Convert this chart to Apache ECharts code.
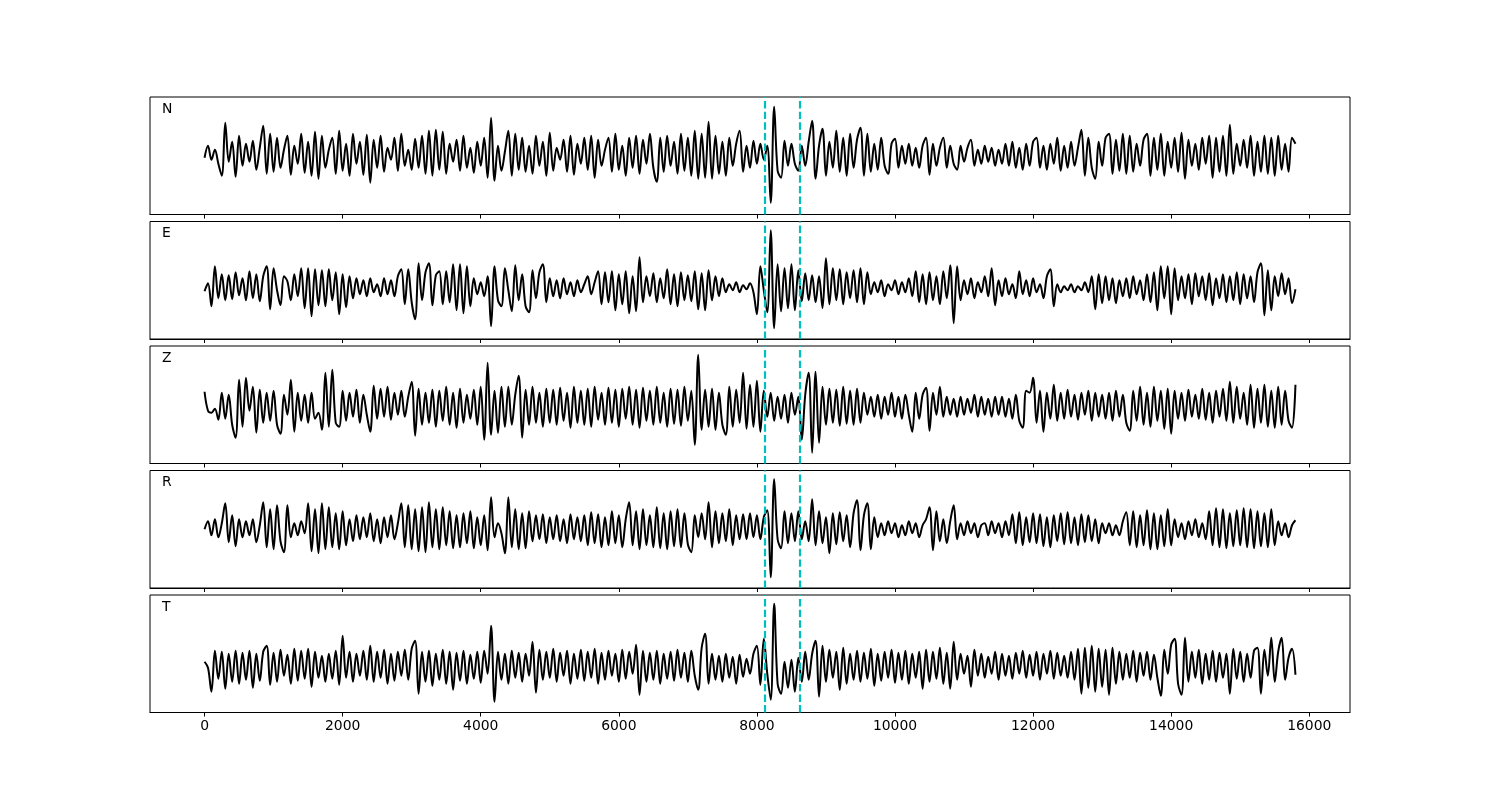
<!DOCTYPE html>
<html>
<head>
<meta charset="utf-8">
<script src="https://cdn.jsdelivr.net/npm/echarts@6/dist/echarts.min.js"></script>
<style>
html,body{margin:0;padding:0;background:#fff;}
#chart{width:1500px;height:800px;}
</style>
</head>
<body>
<div id="chart"></div>
<script>
// sample step of the traces (time units per sample)
const sampleStep = 50;
// channel names
const channels = ['N', 'E', 'Z', 'R', 'T'];
// picked phase times (dashed lines)
const picks = [8120, 8620];
// x tick labels
const xTicks = [0, 2000, 4000, 6000, 8000, 10000, 12000, 14000, 16000];

// amplitudes (relative units)
const traceN = [
-2,10,-4,6,-8,-20,33,-6,14,-21,
20,-10,12,-6,15,-14,8,30,-18,22,
-16,18,-12,6,20,-19,10,-8,22,-17,
14,-20,24,-23,20,-12,6,18,-18,25,
-15,12,-20,22,-8,14,-19,21,-27,16,
-12,20,-16,8,-4,18,-15,22,-10,6,
-14,17,-12,20,-18,25,-20,26,-14,24,
-18,12,-6,16,-15,20,-12,8,-17,14,
-10,18,-22,38,-25,10,-15,4,25,-20,
22,-14,18,-16,10,-18,20,-10,14,-20,
23,-15,8,-4,16,-16,20,-19,12,-8,
18,-14,20,-22,16,-10,6,18,-16,22,
-14,10,-20,18,-12,20,-18,16,-8,22,
-12,-26,18,-16,20,-10,14,-18,22,-15,
18,-20,25,-23,22,-22,34,-23,20,-18,
14,-20,18,-10,12,25,-16,10,-12,15,
-8,12,-4,10,-47,49,-15,-22,15,-10,
12,-8,-15,10,-10,14,35,-23,10,27,
-20,14,-12,25,-16,18,-20,22,-12,16,
28,-20,22,-16,12,-14,18,-10,-18,12,
17,-12,10,-8,12,-10,8,-12,10,18,
-19,12,-10,8,18,-12,10,-8,-14,10,
-6,8,16,-10,6,-8,10,-6,8,-10,
6,-8,12,-10,14,-12,8,-14,12,-10,
14,18,-12,10,-14,12,-8,18,-15,10,
-12,14,-10,8,26,-20,18,-12,-23,14,
-10,18,22,-18,16,-15,22,-18,20,-16,
12,-10,16,22,-20,18,-14,22,-20,14,
-12,18,-16,23,-23,16,-10,12,-14,18,
-8,20,-22,18,-16,20,-20,31,-18,12,
-10,16,-12,20,-20,14,-16,20,-18,18,
-20,20,-14,12,-16,18,12
];
const traceE = [
-11,-3,-26,14,-18,6,-20,5,-19,8,
-15,2,-20,9,-18,6,-21,4,14,-29,
12,-10,-25,4,-1,-20,6,-16,12,-28,
12,-36,11,-25,10,-26,11,-20,8,-34,
6,-27,4,-18,2,-14,0,-16,2,-12,
-4,-16,2,-14,0,-16,4,11,-24,11,
-22,-39,17,-20,8,17,-25,5,9,-24,
9,-22,16,-30,16,-33,14,-26,2,-14,
-2,-16,4,-46,14,-20,-26,12,-10,-31,
15,-20,6,-26,-32,10,-18,8,16,-22,
2,-16,0,-18,2,-14,-2,-16,0,-12,
-4,4,-14,-2,9,-24,8,-22,9,-30,
6,-24,9,-33,4,-31,23,-22,4,-16,
7,-22,2,-18,11,-24,6,-26,8,-20,
5,-21,9,-29,7,-30,10,-20,4,-16,
2,-12,-4,-10,-2,-12,-5,-9,-3,-12,
-34,14,-10,-32,50,-48,16,-31,12,-28,
16,-30,10,-21,7,-20,5,-22,4,-28,
22,-24,12,-20,11,-24,8,-18,10,-22,
12,-24,8,-14,-2,-12,0,-16,-4,-10,
0,-14,-2,-12,2,-16,9,-22,6,-24,
8,-20,4,-24,9,-18,15,-43,14,-20,
0,-14,2,-18,-2,-12,4,-16,12,-25,
0,-16,2,-14,-4,-18,9,-14,0,-16,
2,-12,-4,-18,4,11,-26,-4,-12,-6,
-10,-4,-12,-6,-10,-2,-12,4,-29,6,
-23,4,-20,2,-23,0,-16,2,-18,4,
-14,0,-20,6,-22,8,-30,14,-18,14,
-34,12,-20,4,-18,6,-24,7,-16,4,
-20,7,-25,2,-18,6,-22,4,-20,8,
-24,6,-18,4,-22,8,17,-35,10,-30,
4,-16,7,-14,2,-23,-9
];
const traceZ = [
13,-6,-8,-4,-15,12,-14,10,-20,-33,
25,-22,27,-6,18,-28,15,-18,12,-16,
14,-20,-29,10,-10,25,-27,12,-16,10,
-18,12,-14,-8,-25,32,-22,35,-18,-22,
14,-16,12,-12,15,-18,10,-10,-27,19,
-14,16,-12,18,-15,12,-10,14,-12,8,
23,-31,16,-20,12,-18,15,-22,14,-16,
18,-20,12,-23,16,-18,10,-14,15,-20,
18,-35,42,-30,14,-28,18,-22,18,-20,
10,29,-33,15,-20,18,-18,12,-22,16,
-18,15,-20,17,-16,12,-23,18,-18,14,
-20,16,-22,18,-15,12,-20,17,-18,15,
-22,16,-14,18,-20,15,-23,17,-16,14,
-20,18,-18,12,-22,16,-19,15,-21,18,
-16,14,-40,50,-25,15,-22,16,-25,12,
-20,-30,18,-22,15,-18,32,-24,20,-22,
24,-27,14,-12,12,-16,8,-14,10,-18,
12,-10,8,-35,10,32,-48,33,-38,18,
-20,16,-18,15,-21,18,-19,14,-20,16,
-18,12,-10,8,-12,10,-14,8,-10,12,
-12,8,-14,10,-10,-27,12,-14,10,17,
-26,12,-10,18,-12,8,-10,6,-12,8,
-10,6,-8,10,-12,8,-10,6,-12,8,
-10,8,-12,6,-14,10,-16,-23,14,12,
27,-18,14,-27,12,-14,20,-16,12,-14,
15,-12,10,-15,12,-10,14,-16,12,-12,
10,-14,12,-16,14,-12,10,-18,-26,14,
-16,18,-20,12,-22,18,-16,14,-24,16,
-29,14,-14,12,-16,15,-12,10,-14,16,
-15,12,-18,14,-12,16,-16,23,-18,18,
-14,12,-20,20,-23,16,-18,20,-22,14,
-23,18,-20,14,-16,-23,20
];
const traceR = [
0,8,-6,10,-8,6,26,-13,14,-17,
10,-8,8,-6,10,-13,4,27,-18,20,
-20,24,-12,-23,24,-8,6,-6,8,-4,
26,-22,20,-24,26,-20,22,-18,16,-20,
18,-16,10,-12,14,-10,12,-8,16,-12,
10,-14,12,-8,14,-10,6,26,-18,24,
-20,20,-22,22,-23,27,-18,20,-20,22,
-16,18,-19,14,-18,16,-14,18,-19,12,
-16,14,-21,32,-8,6,-4,-24,32,-18,
20,-20,16,-19,18,-12,14,-10,15,-14,
12,-10,14,-12,10,-14,15,-10,12,-12,
14,-16,17,-14,15,-18,12,-16,18,-14,
14,-18,10,27,-16,18,-20,20,-16,14,
-18,22,-19,16,-20,18,-17,20,-18,16,
-15,-23,14,-8,16,-10,27,-18,18,-14,
16,-12,20,-16,14,-10,15,-10,16,-8,
14,-10,12,19,-48,50,-10,-19,18,-14,
16,-12,18,-10,8,-12,30,-16,18,-14,
12,-24,16,-15,17,-12,14,-18,16,29,
-21,14,26,-20,12,-8,6,-6,8,-4,
6,-8,4,-6,8,-4,6,-8,4,10,
22,-21,18,-12,10,-14,8,24,-10,6,
-6,8,-4,6,-8,4,6,-6,8,-4,
6,-8,8,-6,15,-14,17,-16,12,-13,
16,-14,15,-17,12,-18,14,-12,16,-15,
17,-14,12,-16,15,-13,14,-12,10,-14,
6,-4,6,-6,4,-6,8,17,-16,18,
-18,14,-16,19,-20,16,-20,14,-17,20,
-16,10,-8,6,-10,8,-6,10,-8,6,
-10,18,-16,21,-18,20,-19,16,-17,19,
-16,21,-18,20,-19,18,-17,16,-18,20,
-16,8,-6,6,-8,4,9
];
const traceT = [
-8,-14,-38,3,-25,2,-35,0,-28,3,
-30,1,-26,3,-34,0,-27,2,8,-31,
1,-28,4,-22,-1,-30,5,-27,3,-25,
5,-33,2,-24,-2,-28,0,-25,3,-31,
18,-24,2,-28,0,-22,3,-26,8,-28,
2,-24,4,-30,0,-27,2,-22,4,-26,
5,13,-40,2,-28,3,-32,0,-26,4,
-30,2,-36,1,-27,3,-30,-1,-25,2,
-29,3,-20,28,-48,2,-26,0,-30,3,
-24,1,-28,0,-22,12,-39,4,-26,2,
-24,5,-28,1,-22,3,-30,0,-25,4,
-27,2,-24,5,-30,1,-26,3,-22,0,
-28,4,-25,2,-20,9,-41,3,-28,1,
-26,3,-30,0,-25,2,-27,4,-24,1,
-28,3,-22,-36,6,20,-30,0,-26,-2,
-28,0,-24,-3,-30,-1,-23,-5,-20,0,
8,-31,15,-20,-46,50,-30,-40,-8,-34,
-6,-38,-4,-28,2,-26,0,13,-43,8,
-28,4,-24,2,-36,6,-30,0,-26,3,
-28,1,-25,5,-32,0,-27,2,-24,4,
-29,1,-26,3,-30,0,-24,2,-35,4,
-28,2,-25,6,-30,1,-35,12,-26,0,
-20,-2,-33,4,-22,0,-24,-3,-20,2,
-26,0,-22,-2,-25,1,-20,3,-24,-1,
-22,2,-26,0,-20,3,-25,1,-22,-2,
-24,2,-26,5,-40,6,-34,8,-38,5,
-33,4,-41,6,-30,2,-26,0,-24,3,
-28,1,-22,2,-26,-1,-24,-42,4,-20,
9,15,-30,-41,16,-28,2,-24,4,-30,
0,-26,3,-28,1,-24,0,-40,5,-25,
2,-28,0,-24,3,6,-40,4,-22,16,
-28,2,16,-26,-4,5,-21
];
const traces = [traceN, traceE, traceZ, traceR, traceT];

// ---- layout ----
const panelTops = [97, 221.5, 346, 470.5, 595];
const panelH = 117.5;
const xMin = -790, xMax = 16590;
const yLim = 58.75;

const grids = [], xAxes = [], yAxes = [], series = [], graphics = [];
traces.forEach((vals, k) => {
  const last = k === traces.length - 1;
  grids.push({
    left: 150, width: 1200, top: panelTops[k], height: panelH,
    show: true, borderColor: '#000', borderWidth: 1, backgroundColor: 'transparent',
    containLabel: false
  });
  xAxes.push({
    type: 'value', gridIndex: k, min: xMin, max: xMax,
    axisLine: { show: true, onZero: false, lineStyle: { color: '#000', width: 1 } },
    axisTick: { show: true, inside: false, length: 4, customValues: xTicks, lineStyle: { color: '#000', width: 1 } },
    axisLabel: { show: last, customValues: xTicks, margin: 7, color: '#000', fontSize: 13.9,
      fontFamily: 'DejaVu Sans', formatter: v => String(v) },
    splitLine: { show: false }
  });
  yAxes.push({
    type: 'value', gridIndex: k, min: -yLim, max: yLim,
    axisLine: { show: false }, axisTick: { show: false }, axisLabel: { show: false },
    splitLine: { show: false }
  });
  series.push({
    type: 'line', xAxisIndex: k, yAxisIndex: k,
    data: vals.map((v, i) => [i * sampleStep, v]),
    showSymbol: false, symbol: 'none', animation: false, silent: true,
    smooth: 0.35,
    lineStyle: { color: '#000', width: 2, join: 'round' },
    markLine: {
      silent: true, symbol: 'none', animation: false,
      label: { show: false },
      lineStyle: { color: '#00bfbf', width: 2.2, type: [7.4, 3.2] },
      data: picks.map(p => ({ xAxis: p }))
    }
  });
  graphics.push({
    type: 'text', left: 162, top: panelTops[k] + 5,
    style: { text: channels[k], fill: '#000', fontSize: 13.9, fontFamily: 'DejaVu Sans' }
  });
});

const chart = echarts.init(document.getElementById('chart'), null, { renderer: 'canvas' });
chart.setOption({
  animation: false,
  backgroundColor: '#fff',
  grid: grids, xAxis: xAxes, yAxis: yAxes, series: series, graphic: graphics
});
</script>
</body>
</html>
